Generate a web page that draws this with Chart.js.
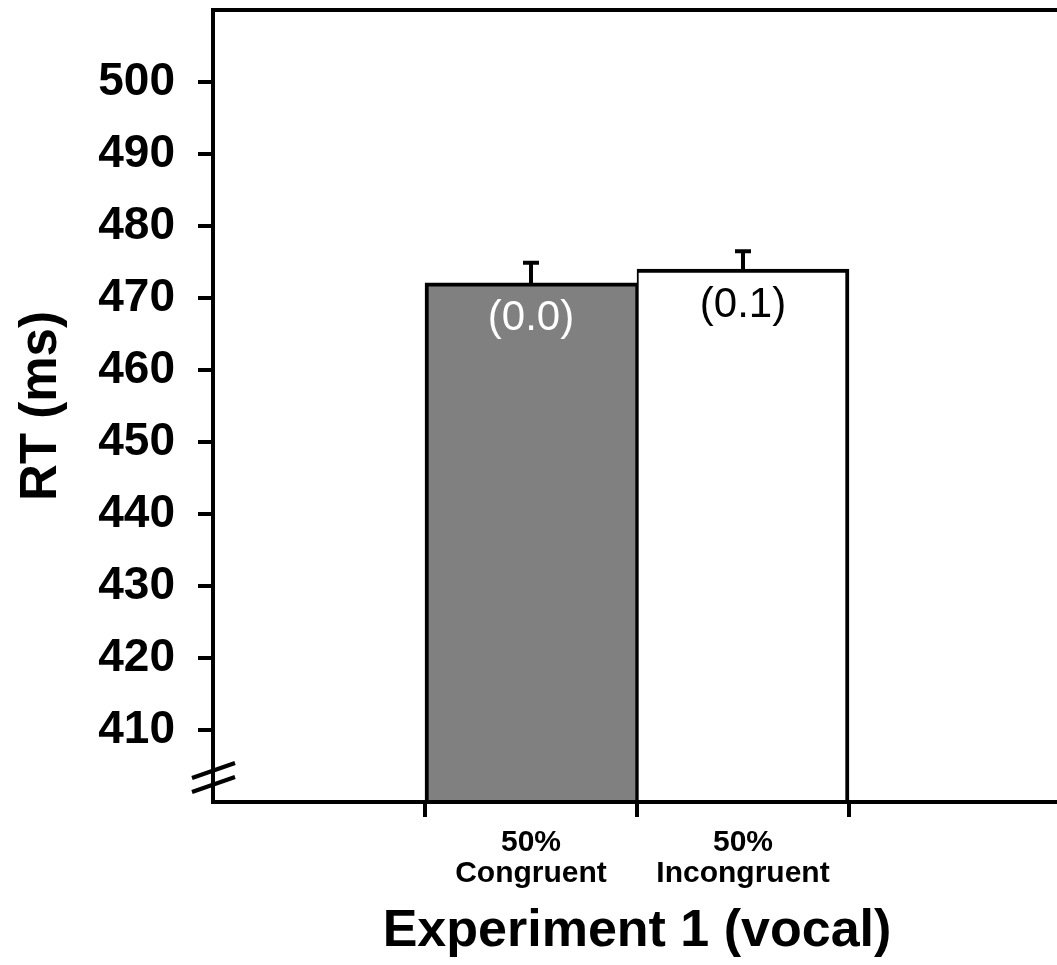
<!DOCTYPE html>
<html>
<head>
<meta charset="utf-8">
<script src="https://cdn.jsdelivr.net/npm/chart.js@4"></script>
<style>
  html, body { margin: 0; padding: 0; background: #fff; overflow: hidden; }
</style>
</head>
<body>
<canvas id="rtChart" width="1063" height="965"></canvas>
<script>
// category axis: empty slots on each side, bars in the middle two
const categories = ["", ["50%", "Congruent"], ["50%", "Incongruent"], ""];
const meanRT = [null, 472.1, 474.0, null];
const errorRT = [null, 2.8, 2.5, null];
const errorRates = [null, "(0.0)", "(0.1)", null];
const barColors = ["#ffffff", "#808080", "#ffffff", "#ffffff"];
const labelColors = [null, "#ffffff", "#000000", null];

const FONT = "'Liberation Sans', Arial, sans-serif";
const LW = 4;

const extras = {
  id: "extras",
  afterDatasetsDraw(chart) {
    const ctx = chart.ctx;
    const y = chart.scales.y;
    const meta = chart.getDatasetMeta(0);
    ctx.save();
    ctx.strokeStyle = "#000";
    ctx.lineWidth = LW;
    meta.data.forEach((bar, i) => {
      if (meanRT[i] == null) return;
      // error bar (upper half only)
      const yErr = y.getPixelForValue(meanRT[i] + errorRT[i]);
      ctx.beginPath();
      ctx.moveTo(bar.x, bar.y);
      ctx.lineTo(bar.x, yErr);
      ctx.moveTo(bar.x - 8, yErr);
      ctx.lineTo(bar.x + 8, yErr);
      ctx.stroke();
      // error rate label inside the bar
      ctx.fillStyle = labelColors[i];
      ctx.font = "42px " + FONT;
      ctx.textAlign = "center";
      ctx.textBaseline = "middle";
      ctx.fillText(errorRates[i], bar.x, bar.y + 36);
    });
    ctx.restore();
  },
  afterDraw(chart) {
    const ctx = chart.ctx;
    const a = chart.chartArea;
    ctx.save();
    ctx.strokeStyle = "#000";
    ctx.lineWidth = LW;
    // top frame line
    ctx.beginPath();
    ctx.moveTo(a.left - LW / 2, a.top);
    ctx.lineTo(chart.width, a.top);
    ctx.stroke();
    // axis break marks
    ctx.beginPath();
    ctx.moveTo(a.left - 21, a.bottom - 24);
    ctx.lineTo(a.left + 22, a.bottom - 39);
    ctx.moveTo(a.left - 21, a.bottom - 10);
    ctx.lineTo(a.left + 22, a.bottom - 25);
    ctx.stroke();
    ctx.restore();
  }
};

const hideEnds = c => (c.tick && (c.tick.value === 400 || c.tick.value === 510)) ? "rgba(0,0,0,0)" : "#000";

new Chart(document.getElementById("rtChart"), {
  type: "bar",
  data: {
    labels: categories,
    datasets: [{
      data: meanRT,
      base: 400,
      backgroundColor: barColors,
      borderColor: "#000",
      borderWidth: c => c.dataIndex === 1 ? { top: 4, left: 4, right: 2, bottom: 0 }
                                          : { top: 4, left: 2, right: 4, bottom: 0 },
      borderSkipped: "start",
      barPercentage: 1,
      categoryPercentage: 1
    }]
  },
  options: {
    responsive: false,
    animation: false,
    layout: { padding: { top: 10, right: 2, left: 0, bottom: 0 } },
    plugins: { legend: { display: false }, tooltip: { enabled: false } },
    scales: {
      x: {
        afterFit: s => { s.height = 163; s.paddingLeft = 0; s.paddingRight = 0; },
        grid: {
          drawOnChartArea: false,
          tickLength: 15,
          lineWidth: LW,
          tickColor: c => (c.index >= 1 && c.index <= 3) ? "#000" : "rgba(0,0,0,0)"
        },
        border: { color: "#000", width: LW },
        ticks: {
          color: "#000",
          padding: 10,
          font: { family: FONT, size: 30, weight: "bold", lineHeight: 1.03 },
          maxRotation: 0,
          autoSkip: false
        },
        title: {
          display: true,
          text: "Experiment 1 (vocal)",
          color: "#000",
          font: { family: FONT, size: 52, weight: "bold" },
          padding: { top: 0, bottom: 2 }
        }
      },
      y: {
        min: 400,
        max: 510,
        afterFit: s => { s.width = 213; s.paddingTop = 0; s.paddingBottom = 0; },
        grid: {
          drawOnChartArea: false,
          tickLength: 15,
          lineWidth: LW,
          tickColor: hideEnds
        },
        border: { color: "#000", width: LW },
        ticks: {
          stepSize: 10,
          color: "#000",
          padding: 23,
          font: { family: FONT, size: 46, weight: "bold" },
          callback: v => (v === 400 || v === 510) ? "" : v
        },
        title: {
          display: true,
          text: "RT (ms)",
          color: "#000",
          font: { family: FONT, size: 51, weight: "bold" },
          padding: { top: 11, bottom: 0 }
        }
      }
    }
  },
  plugins: [extras]
});
</script>
</body>
</html>
